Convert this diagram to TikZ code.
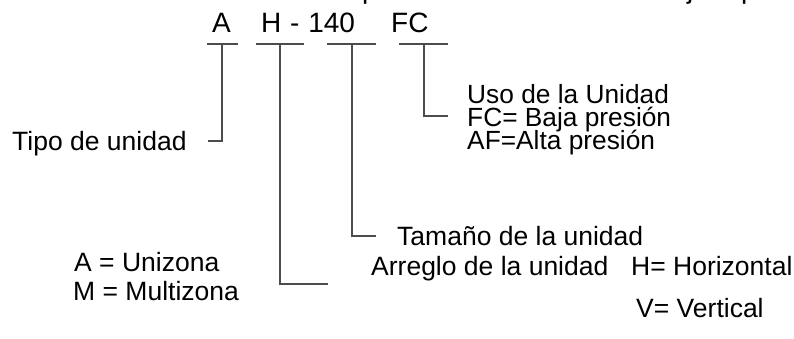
\documentclass[tikz,border=0pt]{standalone}
\usepackage{fontspec}
\setmainfont{Liberation Sans}
\begin{document}
\begin{tikzpicture}[x=1pt,y=-1pt,
  lbl/.style={inner sep=0pt,anchor=base west,font=\fontsize{26.5}{26.5}\selectfont},
  block/.style={inner sep=0pt,anchor=base west,align=left,font=\fontsize{26.3}{23}\selectfont,
    execute at begin node={\lineskiplimit=-100pt\relax}},
  code/.style={inner sep=0pt,anchor=base west,font=\fontsize{28}{28}\selectfont},
  rule/.style={draw=black!70,line width=1.5pt},
  lead/.style={draw=black!70,line width=1.5pt}]
\useasboundingbox (0,0) rectangle (794,339);

% descenders of the heading line above, cut by the page edge
\node[code] at (362,-1) {p};
\node[code] at (687,-1) {j};
\node[code] at (741,-1) {p};

% the code being explained
\node[code] (cA)  at (212,33) {A};
\node[code] (cH)  at (261,33) {H\hspace{1pt} - \hspace{1pt}140};
\node[code] (cFC) at (391,33) {FC};

% underlines under each part of the code
\coordinate (u1) at (222,44);
\coordinate (u2) at (280,44);
\coordinate (u3) at (352,44);
\coordinate (u4) at (424,44);
\draw[rule] (207,44) -- (238,44);
\draw[rule] (256,44) -- (304,44);
\draw[rule] (327,44) -- (376,44);
\draw[rule] (399,44) -- (448,44);

% ends of the leaders, next to their labels
\coordinate (e1) at (208,141);
\coordinate (e2) at (328,284);
\coordinate (e3) at (376,236);
\coordinate (e4) at (448,116);

\draw[lead] (u1) |- (e1);
\draw[lead] (u2) |- (e2);
\draw[lead] (u3) |- (e3);
\draw[lead] (u4) |- (e4);

% labels
\node[lbl] (tipo) at (12,150) {Tipo de unidad};

% three-line note; its base is the baseline of the last line
\node[block] (uso) at (467,149.5) {Uso de la Unidad\\FC= Baja presión\\AF=Alta presión};

\node[lbl] (tam)  at (397,245) {Tamaño de la unidad};

\node[lbl] (arr)  at (371,275) {Arreglo de la unidad};
\node[lbl] (hor)  at (631,275) {H= Horizontal};
\node[lbl] (ver)  at (636,317.5) {V= Vertical};

\node[lbl] (uni)  at (74,271) {A = Unizona};
\node[lbl] (mul)  at (73,300.5) {M = Multizona};
\end{tikzpicture}
\end{document}
